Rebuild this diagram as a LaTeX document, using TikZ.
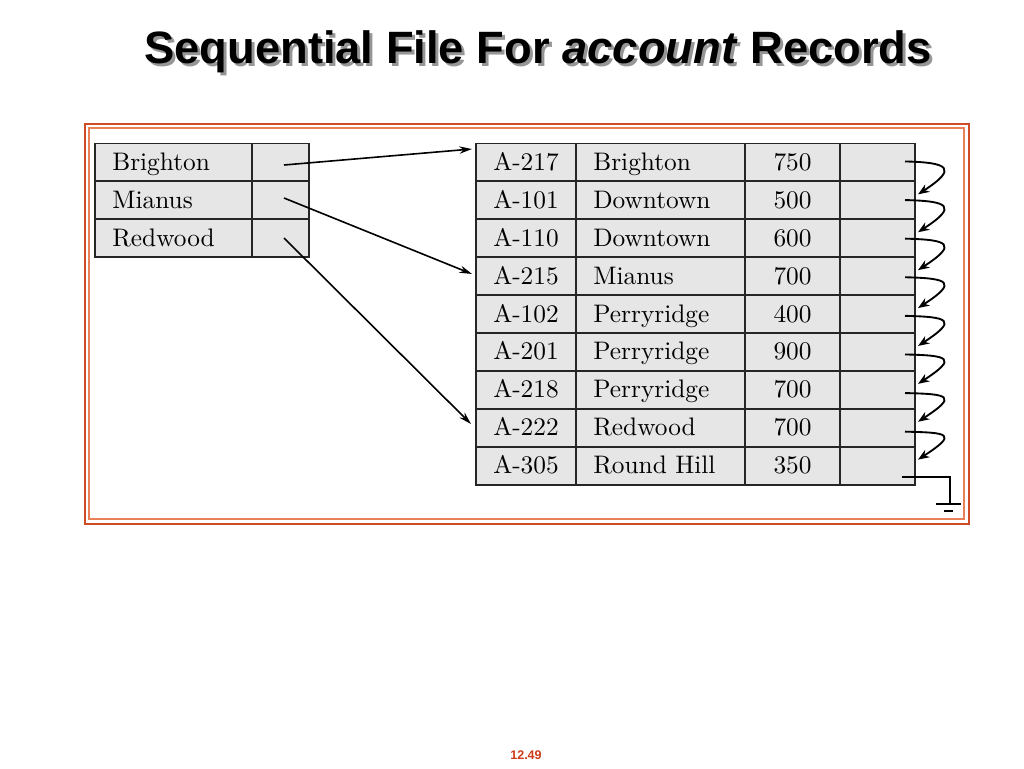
\documentclass[tikz,border=0pt]{standalone}
\usepackage{fontspec}
\newfontfamily\titlefont{Liberation Sans}
\newfontfamily\cellfont{lmroman10-regular.otf}
\usetikzlibrary{arrows.meta}
\definecolor{framered}{RGB}{208,76,40}
\definecolor{frameorange}{RGB}{234,128,88}
\definecolor{cellgray}{RGB}{230,230,230}
\definecolor{shadowgray}{RGB}{150,150,150}
\definecolor{pagered}{RGB}{204,58,24}
\begin{document}
\begin{tikzpicture}
[x=0.75pt,y=-0.75pt,
  celldecorate/.style={draw=black!85,line width=1.4pt,fill=cellgray,inner sep=0pt,
    minimum height=28.4pt,text height=13pt,text depth=1pt,
    font=\cellfont\fontsize{19}{22}\selectfont},
  namedecorate/.style={celldecorate,text width=#1,align=left,inner xsep=13pt},
  titledecorate/.style={anchor=base,font=\titlefont\fontsize{34}{40}\selectfont\bfseries},
  linedecorate/.style={-{Stealth[length=9.5pt,width=5.5pt]},line width=1.2pt},
  chaindecorate/.style={-{Stealth[length=8.5pt,width=6.5pt]},line width=1.4pt}]
\useasboundingbox (0,0) rectangle (1024,768);
%% title and page number
\node (titleshadow) at (541,66) [titledecorate,shadowgray]
  {Sequential File For \textit{account} Records};
\node (title) at (538,63) [titledecorate]
  {Sequential File For \textit{account} Records};
\node (pagenum) at (526,755) [text=pagered,font=\titlefont\fontsize{9.4}{11}\selectfont\bfseries]
  {12.49};
%% frame
\draw[framered,line width=1.5pt] (84.5,123.5) rectangle (968.5,523.5);
\draw[frameorange,line width=1.2pt] (89,128) rectangle (964,519);
%% index file
\foreach \key [count=\i] in {Brighton, Mianus, Redwood} {
  \pgfmathsetmacro\yc{143.5+(\i-0.5)*37.9}
  \node (key\i) at (173.5,\yc) [namedecorate=91.75pt] {\key};
  \node (keyptr\i) at (280.5,\yc) [celldecorate,minimum width=42.75pt] {};
}
%% sequential file
\foreach \acc/\br/\bal [count=\i] in {A-217/Brighton/750, A-101/Downtown/500,
  A-110/Downtown/600, A-215/Mianus/700, A-102/Perryridge/400,
  A-201/Perryridge/900, A-218/Perryridge/700, A-222/Redwood/700,
  A-305/Round Hill/350} {
  \pgfmathsetmacro\yc{143.5+(\i-0.5)*37.9}
  \node (acc\i) at (526,\yc) [celldecorate,minimum width=75pt] {\acc};
  \node (br\i) at (660.5,\yc) [namedecorate=100.75pt] {\br};
  \node (bal\i) at (792.5,\yc) [celldecorate,minimum width=71.25pt] {\bal};
  \node (nxt\i) at (877.5,\yc) [celldecorate,minimum width=56.25pt] {};
}
%% index pointers
\foreach \i/\ys/\xt/\yt in {1/165/472/149, 2/198/472/274, 3/238/471/424} {
  \coordinate (keyfrom\i) at (284,\ys);
  \coordinate (keyto\i) at (\xt,\yt);
  \draw[linedecorate] (keyfrom\i) -- (keyto\i);
}
%% chain of next pointers
\foreach \i in {1,...,8} {
  \pgfmathsetmacro\ys{143.5+(\i-0.5)*37.9+0.7*\i-1.7}
  \pgfmathsetmacro\yt{143.5+(\i+0.5)*37.9-6}
  \coordinate (from\i) at (905,\ys);
  \coordinate (tip\i) at (918,\yt);
  \draw[chaindecorate] (from\i) .. controls +(44,1) and +(40,-26) .. (tip\i);
}
%% end of chain
\coordinate (from9) at (902,477);
\coordinate (gnd) at (950,504);
\draw[line width=1.4pt] (from9) -| (gnd);
\draw[line width=1.4pt] (936,504) -- (961,504);
\draw[line width=1.4pt] (944,511) -- (953,511);
\end{tikzpicture}
\end{document}
